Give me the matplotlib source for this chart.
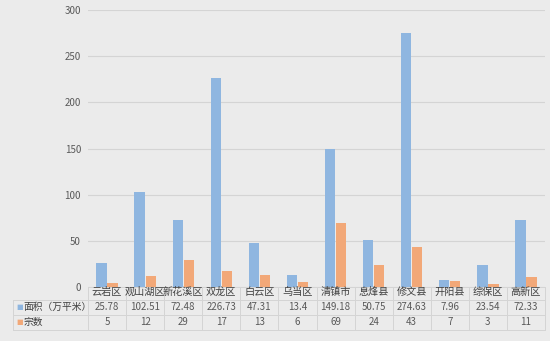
import numpy as np
import matplotlib.pyplot as plt

plt.rcParams['font.family'] = ['Noto Sans CJK SC', 'DejaVu Sans']

# data
districts = ["云岩区", "观山湖区", "新花溪区", "双龙区", "白云区", "乌当区",
             "清镇市", "息烽县", "修文县", "开阳县", "综保区", "高新区"]
area = [25.78, 102.51, 72.48, 226.73, 47.31, 13.4,
        149.18, 50.75, 274.63, 7.96, 23.54, 72.33]
area_text = ["25.78", "102.51", "72.48", "226.73", "47.31", "13.4",
             "149.18", "50.75", "274.63", "7.96", "23.54", "72.33"]
count = [5, 12, 29, 17, 13, 6, 69, 24, 43, 7, 3, 11]
series_names = ["面积（万平米）", "宗数"]

blue = "#8fb6e0"
orange = "#f2a878"
bg = "#ebebeb"
grid_c = "#d4d4d4"
txt = "#595959"

fig = plt.figure(figsize=(5.5, 3.41), dpi=100, facecolor=bg)
ax = fig.add_axes([0.16, 0.158, 0.831, 0.813], facecolor=bg)

x = np.arange(len(districts))
w = 0.27
ax.bar(x - w / 2 - 0.01, area, w, color=blue, zorder=3)
ax.bar(x + w / 2 + 0.01, count, w, color=orange, zorder=3)

ax.set_xlim(-0.5, len(districts) - 0.5)
ax.set_ylim(0, 300)
ax.set_yticks(range(0, 301, 50))
ax.yaxis.grid(True, color=grid_c, linewidth=0.8, zorder=0)
ax.tick_params(axis='y', length=0, labelsize=7, colors=txt, pad=5)
ax.set_xticks([])
for s in ax.spines.values():
    s.set_visible(False)

# data table below the axes
trans = ax.get_xaxis_transform()
row_y = [-0.018, -0.072, -0.127]   # centres of the three rows in axes coords
edges_y = [0.0, -0.045, -0.1, -0.155]
for i in range(len(districts)):
    ax.text(x[i], row_y[0], districts[i], transform=trans, ha='center', va='center',
            fontsize=7.3, color="#404040", clip_on=False)
    ax.text(x[i], row_y[1], area_text[i], transform=trans, ha='center', va='center',
            fontsize=7, color=txt, clip_on=False)
    ax.text(x[i], row_y[2], str(count[i]), transform=trans, ha='center', va='center',
            fontsize=7, color=txt, clip_on=False)

x_left = -2.48
for k, yy in enumerate(edges_y):
    x0 = -0.5 if k == 0 else x_left
    ax.plot([x0, len(districts) - 0.5], [yy, yy], transform=trans, color=grid_c,
            linewidth=0.7, clip_on=False)
for xv in np.arange(-0.5, len(districts), 1.0):
    ax.plot([xv, xv], [0, edges_y[-1]], transform=trans, color=grid_c,
            linewidth=0.7, clip_on=False)
ax.plot([x_left, x_left], [edges_y[1], edges_y[-1]], transform=trans, color=grid_c,
        linewidth=0.7, clip_on=False)

# legend keys in the table
for j, (name, c) in enumerate(zip(series_names, [blue, orange])):
    ax.text(x_left + 0.1, row_y[j + 1], "■", transform=trans, ha='left', va='center',
            fontsize=5, color=c, clip_on=False, family=['DejaVu Sans'])
    ax.text(x_left + 0.28, row_y[j + 1], name, transform=trans, ha='left', va='center',
            fontsize=7, color="#404040", clip_on=False)

fig.savefig("out.png", dpi=100, facecolor=bg)
